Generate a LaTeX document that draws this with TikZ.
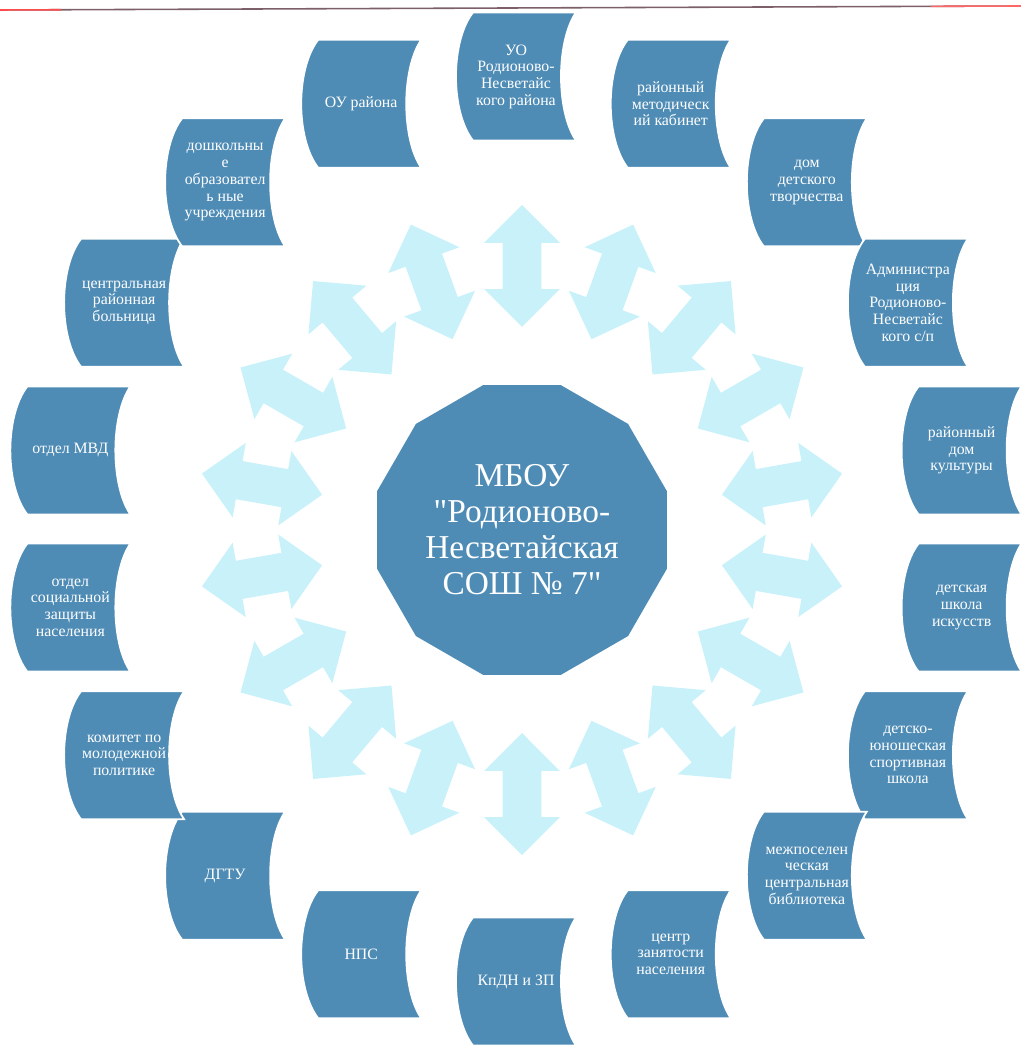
\documentclass[tikz,border=0pt]{standalone}
\usepackage{fontspec}
\setmainfont{Liberation Serif}[Ligatures=TeXOff]
\usetikzlibrary{shapes.geometric}
\usetikzlibrary{shapes.arrows}
\usetikzlibrary{calc}
\definecolor{boxblue}{RGB}{78,140,182}
\definecolor{arrowcyan}{RGB}{200,241,250}
\definecolor{scanline}{RGB}{125,95,105}
\tikzset{org/.style = {text=white, align=center, inner sep=0,
                       font=\fontsize{9}{9.5}\selectfont},
         link/.style = {double arrow, fill=arrowcyan, inner xsep=0, inner ysep=0.38cm,
                        minimum height=2.44cm, minimum width=1.5cm,
                        double arrow head extend=0.37cm,
                        double arrow tip angle=90}}

\begin{document}
\begin{tikzpicture}
    \useasboundingbox (-10.32, -10.38) rectangle (10.10, 10.58);
    \draw [scanline, line width=0.9pt] (-10.32, 10.38) -- (10.10, 10.46);
    \draw [red!70, line width=0.9pt] (-10.32, 10.38) -- (-9.1, 10.385);
    \draw [red!60, line width=0.9pt] (8.3, 10.453) -- (10.10, 10.46);

    \node (sosh) [regular polygon, regular polygon sides=12, minimum size=6cm,
                  fill=boxblue, inner sep=0, text=white, align=center,
                  font=\fontsize{19}{20.5}\selectfont] at (0.12, -0.02)
      {МБОУ\\"Родионово-\\Несветайская\\СОШ № 7"};

    \foreach \a/\n/\t in {90/uo/{УО\\Родионово-\\Несветайс\\кого района},
                          70/rmk/{районный\\методическ\\ий кабинет},
                          50/ddt/{дом\\детского\\творчества},
                          30/adm/{Администра\\ция\\Родионово-\\Несветайс\\кого с/п},
                          10/rdk/{районный\\дом\\культуры},
                          -10/dshi/{детская\\школа\\искусств},
                          -30/dussh/{детско-\\юношеская\\спортивная\\школа},
                          -50/mcb/{межпоселен\\ческая\\центральная\\библиотека},
                          -70/czn/{центр\\занятости\\населения},
                          -90/kdn/{КпДН и ЗП},
                          -110/nps/{НПС},
                          -130/dgtu/{ДГТУ},
                          -150/kmp/{комитет по\\молодежной\\политике},
                          -170/oszn/{отдел\\социальной\\защиты\\населения},
                          170/mvd/{отдел МВД},
                          150/crb/{центральная\\районная\\больница},
                          130/dou/{дошкольны\\е\\образовател\\ь ные\\учреждения},
                          110/ou/{ОУ района}} {
      \node (a\n) [link, rotate=\a] at ($(sosh)+(\a:5.28)$) {};
      \filldraw [fill=boxblue, draw=white, line width=1pt, shift={(\a:9.05)}]
        (-0.86, 1.28) arc [start angle=120, end angle=240, x radius=0.68, y radius=1.478]
        -- (1.2, -1.28) arc [start angle=240, end angle=120, x radius=0.6, y radius=1.478]
        -- cycle;
      \node (\n) [org] at (\a:9.05) {\t};
    }
\end{tikzpicture}
\end{document}
